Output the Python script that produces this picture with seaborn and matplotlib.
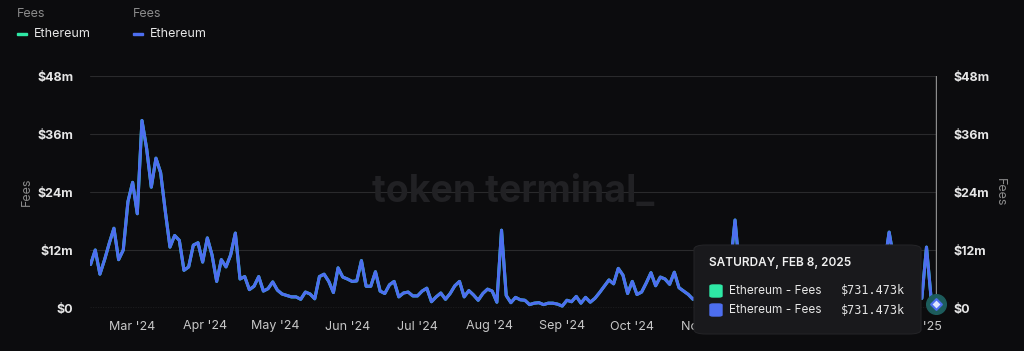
import matplotlib
matplotlib.use("Agg")
import matplotlib.pyplot as plt
import matplotlib.dates as mdates
from matplotlib.patches import FancyBboxPatch, Rectangle
import seaborn as sns
import pandas as pd
import numpy as np

# daily fees (in $m), one reading every 2 days, ending on Sat Feb 8 2025
fees = [
    9, 12, 7, 10, 13.4, 16.5, 10, 12, 22, 26,
    19.5, 38.8, 33, 25, 31, 28, 20, 12.6, 15, 14,
    7.8, 8.5, 13, 13.5, 9.5, 14.5, 11, 5.5, 10, 8.5,
    11, 15.5, 6, 6.5, 3.8, 4.5, 6.5, 3.5, 4, 5.4,
    3.7, 2.9, 2.6, 2.3, 2.3, 1.8, 3.3, 2.9, 1.9, 6.5,
    7, 5.5, 3.2, 8.3, 6.4, 6, 5.5, 5.6, 9.8, 4.5,
    4.5, 7.5, 3.5, 3, 4.8, 5.5, 2.3, 3.1, 3.3, 2.5,
    2.5, 3.5, 4.1, 1.3, 2.3, 3.1, 1.8, 3, 4.6, 5.5,
    2.3, 3.6, 2.7, 1.6, 3, 3.9, 3.5, 1.2, 16.1, 2.6,
    1.1, 2.2, 1.7, 1.6, 0.7, 1.0, 1.1, 0.7, 1.0, 1.0,
    0.8, 0.4, 1.6, 1.3, 2.4, 1.0, 2.2, 1.2, 2.0, 3.2,
    4.5, 5.8, 5.0, 8.2, 6.8, 3.0, 5.5, 2.8, 3.3, 5.2,
    7.3, 4.6, 6.4, 6.0, 4.9, 7.4, 4.2, 3.5, 2.8, 1.8,
    2.5, 3.0, 4.2, 3.5, 5.0, 4.4, 6.2, 8.5, 18.2, 7.5,
    6.0, 7.2, 5.5, 6.8, 8.0, 6.3, 5.4, 7.0, 8.6, 6.9,
    5.8, 7.4, 6.5, 5.2, 6.1, 7.8, 6.4, 5.0, 4.4, 5.6,
    4.8, 3.9, 4.6, 5.9, 4.7, 3.8, 4.5, 3.6, 4.9, 5.4,
    9.0, 15.7, 10.0, 5.5, 4.2, 3.4, 2.9, 2.5, 2.0, 12.6,
    1.9, 0.731473,
]
dates = pd.date_range(end="2025-02-08", periods=len(fees), freq="2D")
yticks = [0, 12, 24, 36, 48]
ytick_labels = ["$0", "$12m", "$24m", "$36m", "$48m"]
series_names = ["Ethereum", "Ethereum"]
tooltip_date = "SATURDAY, FEB 8, 2025"
tooltip_value = "$731.473k"

bg = "#0c0c0e"
teal = "#2ee8a5"
blue = "#4d6ef0"

sns.set_style("dark", {"axes.facecolor": bg, "figure.facecolor": bg})
plt.rcParams["font.family"] = ["Inter", "DejaVu Sans"]

df = pd.DataFrame({"date": dates, "fees": fees})

fig = plt.figure(figsize=(10.24, 3.51), dpi=100)
ax = fig.add_axes([90 / 1024, 1 - 308 / 351, 847 / 1024, 232 / 351])

sns.lineplot(data=df, x="date", y="fees", color=teal, lw=2.2, ax=ax)
sns.lineplot(data=df, x="date", y="fees", color=blue, lw=2.2, ax=ax)

ax.set_ylim(0, 48)
ax.set_xlim(pd.Timestamp("2024-02-11 18:00"), pd.Timestamp("2025-02-08 12:00"))
for sp in ax.spines.values():
    sp.set_visible(False)

ax.set_yticks(yticks)
ax.set_yticklabels(ytick_labels)
ax.tick_params(axis="y", length=0, pad=12, labelsize=9, labelcolor="#e6e6e6",
               labelright=True, labelleft=True)
for lab in ax.get_yticklabels():
    lab.set_fontweight("bold")
ax.grid(False)
for v in yticks[1:]:
    ax.axhline(v, color="#2a2a2c", lw=0.8, zorder=0)
ax.axhline(0, color="#8a8a8a", lw=0.9, ls=(0, (1, 1)), zorder=0)

ax.xaxis.set_major_locator(mdates.MonthLocator())
ax.xaxis.set_major_formatter(mdates.DateFormatter("%b '%y"))
ax.tick_params(axis="x", length=3, color="#2a2a2c", pad=6, labelsize=9,
               labelcolor="#c8c8c8")
ax.set_xlabel("")
ax.set_ylabel("")

# y-axis titles
fig.text(27 / 1024, 1 - 192 / 351, "Fees", rotation=90, color="#8a8a8a",
         fontsize=9, ha="center", va="center")
fig.text(1000 / 1024, 1 - 192 / 351, "Fees", rotation=270, color="#8a8a8a",
         fontsize=9, ha="center", va="center")

# watermark
ax.text(0.5, 0.5, "token terminal_", transform=ax.transAxes, ha="center",
        va="center", fontsize=27, fontweight="bold", color="#212124", zorder=0)

# legend
for x0, c, name in [(17, teal, series_names[0]), (133, blue, series_names[1])]:
    fig.text(x0 / 1024, 1 - 14 / 351, "Fees", color="#8a8a8a", fontsize=9,
             va="center")
    fig.patches.append(Rectangle((x0 / 1024, 1 - 35 / 351), 10 / 1024, 2 / 351,
                                 transform=fig.transFigure, color=c))
    fig.text((x0 + 17) / 1024, 1 - 34 / 351, name, color="#e6e6e6", fontsize=9,
             va="center")

# crosshair and hover marker
last = dates[-1]
ax.axvline(last, color="#8c8c8c", lw=1, zorder=3)
ax.scatter([last], [fees[-1]], s=200, color="#1d5c5c", zorder=5, clip_on=False)
ax.scatter([last], [fees[-1]], s=30, marker="D", color="#dfe6ff",
           edgecolor=blue, lw=1.5, zorder=6, clip_on=False)

# tooltip
box = FancyBboxPatch((694 / 1024, 1 - 334 / 351), 227 / 1024, 89 / 351,
                     boxstyle="round,pad=0,rounding_size=0.012",
                     transform=fig.transFigure, facecolor="#19191c",
                     edgecolor="#232326", lw=0.8, zorder=10)
fig.patches.append(box)
fig.text(709 / 1024, 1 - 263 / 351, tooltip_date, color="#f0f0f0", fontsize=8.5,
         fontweight="semibold", va="center", zorder=11)
for yy, c in [(291, teal), (310, blue)]:
    fig.patches.append(FancyBboxPatch((710 / 1024, 1 - (yy + 6) / 351), 12 / 1024,
                                      12 / 351, boxstyle="round,pad=0,rounding_size=0.003",
                                      transform=fig.transFigure, color=c, zorder=11))
    fig.text(729 / 1024, 1 - yy / 351, "Ethereum - Fees", color="#e6e6e6",
             fontsize=8.5, va="center", zorder=11)
    fig.text(905 / 1024, 1 - yy / 351, tooltip_value, color="#e6e6e6",
             fontsize=8.5, va="center", ha="right", zorder=11,
             family=["DejaVu Sans Mono"])

fig.savefig("out.png", dpi=100, facecolor=bg)
